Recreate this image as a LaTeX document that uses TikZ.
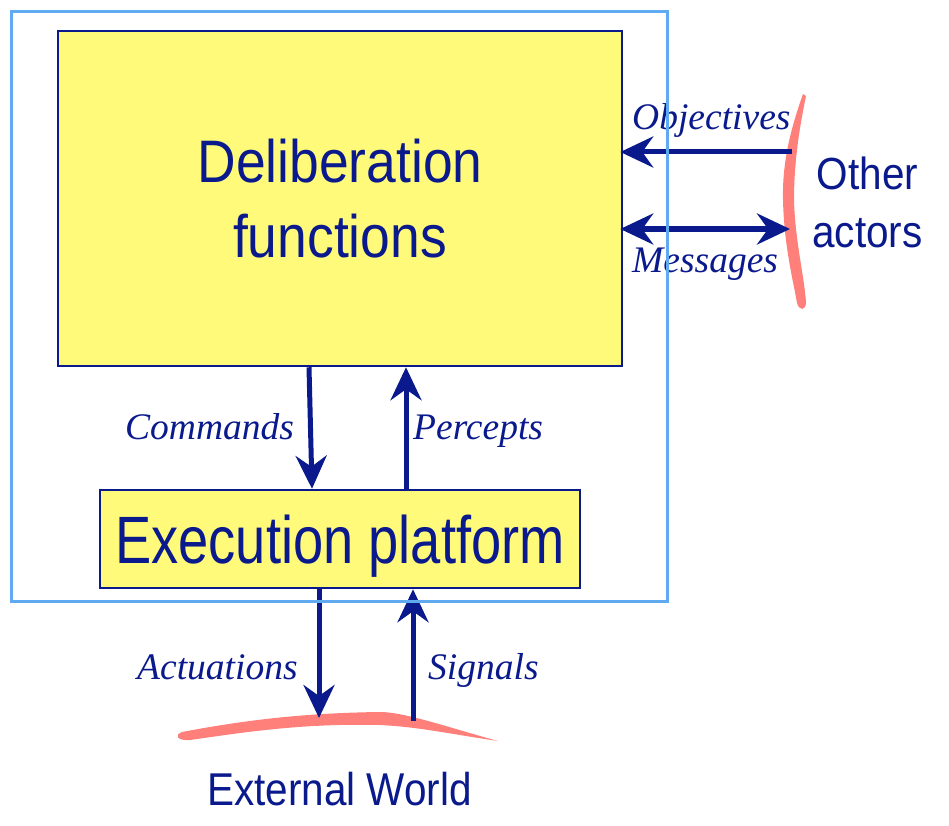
\documentclass[tikz,border=0pt]{standalone}
\usepackage{fontspec}
\setmainfont{Liberation Serif}
\setsansfont{Liberation Sans}
\usetikzlibrary{arrows.meta}
\definecolor{navy}{RGB}{10,26,140}
\definecolor{boxyellow}{RGB}{255,250,122}
\definecolor{frameblue}{RGB}{95,170,240}
\definecolor{brushpink}{RGB}{255,128,122}
\tikzset{
  >={Stealth[length=33pt,width=31pt,inset=11pt]},
  box/.style={draw=navy, line width=2.5pt, fill=boxyellow, inner sep=0pt, text=navy},
  bigtext/.style={text=navy, inner sep=0pt, align=center},
  lab/.style={text=navy, font=\itshape\fontsize{37.5}{40}\selectfont, inner sep=0pt, anchor=base west},
  arr/.style={draw=navy, line width=5pt, ->},
  darr/.style={draw=navy, line width=5pt, <->},
  brush/.style={fill=brushpink, draw=none}
}
\begin{document}
\begin{tikzpicture}[x=1pt,y=-1pt]
\useasboundingbox (0,0) rectangle (949,826);

% pink brush strokes
\fill[brush] (803,94) .. controls (792,125) and (782,160) .. (783,200)
  .. controls (784,245) and (793,280) .. (797,303)
  .. controls (799,311) and (806,311) .. (806,302)
  .. controls (804,275) and (795,240) .. (794,200)
  .. controls (794,160) and (800,125) .. (806,96) -- cycle;
\fill[brush] (182,732) .. controls (240,721) and (300,713) .. (380,712)
  .. controls (405,712) and (450,728) .. (498,741)
  .. controls (450,734) and (420,727) .. (380,725)
  .. controls (300,723) and (240,733) .. (190,740)
  .. controls (177,741) and (174,735) .. (182,732) -- cycle;

% boxes
\node[box, minimum width=564pt, minimum height=335pt, align=center,
      font=\sffamily\fontsize{60}{75}\selectfont] (delib) at (340,198.5)
  {\scalebox{0.89}[1]{Deliberation}\\\scalebox{0.89}[1]{functions}};
\node[box, minimum width=480pt, minimum height=98pt, text depth=0pt,
      font=\sffamily\fontsize{67}{70}\selectfont] (exec) at (340,539)
  {\scalebox{0.81}[1]{Execution platform}};

% outside texts
\node[bigtext, font=\sffamily\fontsize{45}{58}\selectfont] (other) at (867.5,202.5)
  {\scalebox{0.9}[1]{Other}\\\scalebox{0.9}[1]{actors}};
\node[bigtext, anchor=base, font=\sffamily\fontsize{46}{50}\selectfont] (world) at (339.5,805)
  {\scalebox{0.88}[1]{External World}};

% free ends and x positions
\coordinate (objsrc) at (792,152);
\coordinate (msgend) at (790,229);
\coordinate (actend) at (319,718);
\coordinate (sigsrc) at (413,721);
\coordinate (cmdtop) at (309,0);
\coordinate (cmdbot) at (312,0);
\coordinate (perx) at (406,0);
\coordinate (actx) at (319,0);
\coordinate (sigx) at (413,0);

% connectors
\draw[arr, shorten >=-3pt] (objsrc) -- (delib.east |- objsrc);
\draw[darr, shorten <=-3pt] (delib.east |- msgend) -- (msgend);
\draw[arr] (delib.south -| cmdtop) -- (exec.north -| cmdbot);
\draw[arr] (exec.north -| perx) -- (delib.south -| perx);
\draw[arr] (exec.south -| actx) -- (actend);
\draw[arr] (sigsrc) -- (exec.south -| sigx);

% labels
\node[lab] (lobj) at (632,130) {Objectives};
\node[lab] (lmsg) at (632,272) {Messages};
\node[lab] (lcmd) at (125,439) {Commands};
\node[lab] (lper) at (413,439) {Percepts};
\node[lab] (lact) at (137,679) {Actuations};
\node[lab] (lsig) at (428,679) {Signals};

% outer frame (drawn over connectors)
\node[draw=frameblue, line width=3pt, minimum width=656pt, minimum height=590pt,
      inner sep=0pt] (frame) at (339.5,306.5) {};
\end{tikzpicture}
\end{document}
